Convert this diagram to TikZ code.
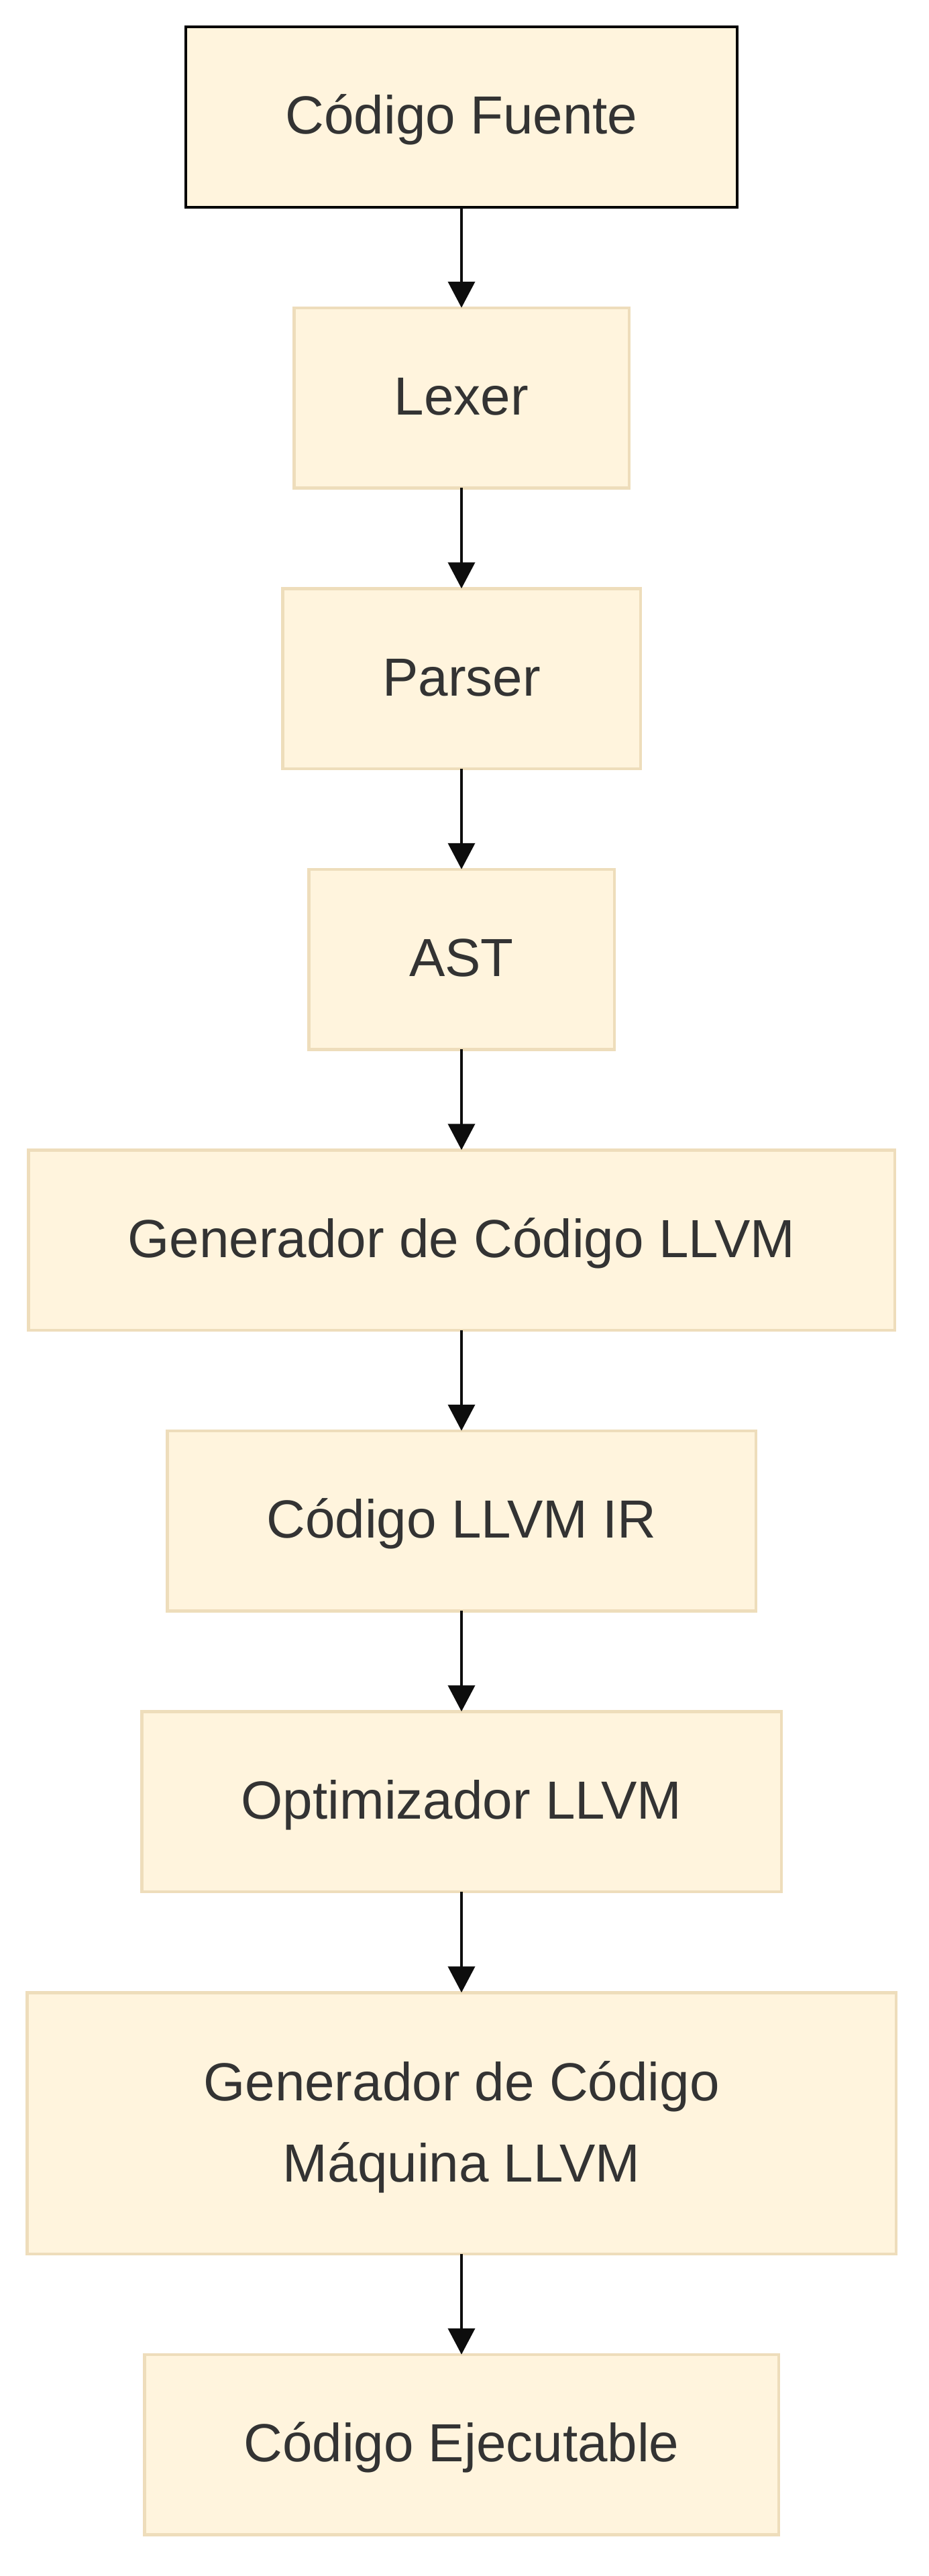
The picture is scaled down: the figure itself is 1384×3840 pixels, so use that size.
\documentclass[tikz,border=0pt]{standalone}
\usepackage{fontspec}
\setmainfont{Liberation Sans}
\usetikzlibrary{arrows.meta}
\definecolor{nodefill}{HTML}{FFF4DD}
\definecolor{nodeline}{HTML}{EEDDBB}
\definecolor{txt}{HTML}{333333}
\definecolor{arrowc}{HTML}{0D0D0D}
\begin{document}
\begin{tikzpicture}[x=1pt,y=-1pt,
  box/.style={rectangle, fill=nodefill, draw=nodeline, line width=4.5pt,
    minimum height=268.5pt, inner sep=0pt, outer sep=0pt, text=txt,
    font=\fontsize{80}{121}\selectfont, align=center,
    text height=60pt, text depth=9pt},
  twoline/.style={text height=190pt, text depth=16pt},
  startbox/.style={box, draw=black, line width=4pt, minimum height=269pt},
  flow/.style={draw=arrowc, line width=4pt, -{Triangle[width=40pt,length=39pt]}}]
\useasboundingbox (0,0) rectangle (1384,3840);
\node[startbox, minimum width=822pt]    (n1) at (688,174.5) {Código Fuente};
\node[box, minimum width=499.5pt]       (n2) at (688,593)   {Lexer};
\node[box, minimum width=533.5pt]       (n3) at (688,1011.5){Parser};
\node[box, minimum width=455.5pt]       (n4) at (688,1430)  {AST};
\node[box, minimum width=1291.5pt]      (n5) at (688,1848.5){Generador de Código LLVM};
\node[box, minimum width=877.5pt]       (n6) at (688,2267)  {Código LLVM IR};
\node[box, minimum width=953.5pt]       (n7) at (688,2685.5){Optimizador LLVM};
\node[box, twoline, minimum width=1295.5pt, minimum height=389.5pt] (n8) at (688,3165) {Generador de Código\\Máquina LLVM};
\node[box, minimum width=945.5pt]       (n9) at (688,3644)  {Código Ejecutable};
\draw[flow] (n1) -- (n2);
\draw[flow] (n2) -- (n3);
\draw[flow] (n3) -- (n4);
\draw[flow] (n4) -- (n5);
\draw[flow] (n5) -- (n6);
\draw[flow] (n6) -- (n7);
\draw[flow] (n7) -- (n8);
\draw[flow] (n8) -- (n9);
\end{tikzpicture}
\end{document}
